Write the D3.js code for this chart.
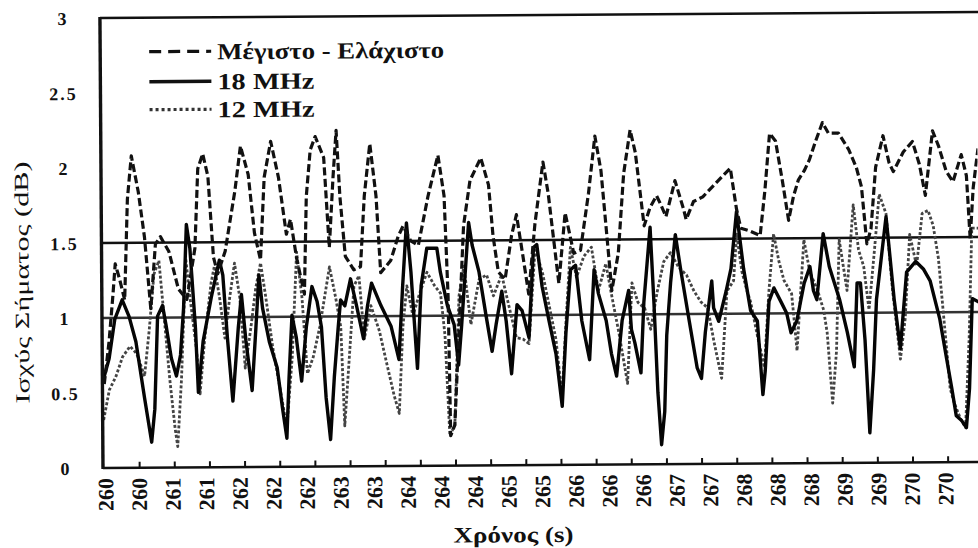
<!DOCTYPE html>
<html>
<head>
<meta charset="utf-8">
<script src="https://cdn.jsdelivr.net/npm/d3@7"></script>
<style>
  html, body { margin: 0; padding: 0; background: #fff; }
  svg { display: block; }
</style>
</head>
<body>
<script>
// Time axis labels (one every 0.4 s, rounded to whole seconds)
const tickLabels = ["260","260","261","261","262","262","262","263","263","264","264","264","265","265","266","266","266","267","267","268","268","268","269","269","270","270"];
const yTickValues = [0, 0.5, 1, 1.5, 2, 2.5, 3];
const yTickLabels = ["0", "0.5", "1", "1.5", "2", "2.5", "3"];

// Horizontal reference levels (dB)
const refLevels = [1.5, 1.0];

// Μέγιστο - Ελάχιστο (max - min), dashed
const maxMinT = [260.01,260.07,260.12,260.15,260.20,260.26,260.30,260.35,260.43,260.50,260.57,260.63,260.69,260.79,260.90,261.00,261.10,261.14,261.20,261.26,261.32,261.37,261.46,261.58,261.65,261.74,261.81,261.88,261.93,262.01,262.10,262.19,262.24,262.31,262.40,262.43,262.48,262.54,262.64,262.70,262.75,262.79,262.83,262.89,262.99,263.07,263.12,263.19,263.26,263.31,263.43,263.52,263.58,263.67,263.76,263.88,264.00,264.07,264.11,264.13,264.18,264.24,264.30,264.38,264.51,264.60,264.65,264.71,264.79,264.87,264.93,265.00,265.07,265.15,265.25,265.31,265.43,265.51,265.61,265.69,265.79,265.87,265.94,266.06,266.14,266.21,266.29,266.35,266.45,266.52,266.60,266.65,266.71,266.82,266.92,266.95,267.04,267.15,267.27,267.39,267.48,267.55,267.60,267.71,267.83,267.89,267.95,268.02,268.10,268.17,268.23,268.29,268.36,268.42,268.50,268.58,268.65,268.77,268.89,268.98,269.04,269.10,269.15,269.21,269.30,269.37,269.42,269.54,269.65,269.73,269.80,269.89,269.96,270.05,270.13,270.23,270.29,270.33,270.37,270.43];
const maxMinV = [0.56,0.84,1.15,1.36,1.26,1.12,1.79,2.08,1.84,1.54,1.06,1.49,1.54,1.44,1.19,1.12,1.46,1.99,2.09,1.94,1.40,1.29,1.44,1.84,2.14,1.95,1.56,1.38,1.93,2.17,1.93,1.55,1.65,1.39,1.15,1.80,2.11,2.20,2.06,1.46,1.93,2.24,1.80,1.40,1.31,1.33,1.80,2.15,1.80,1.29,1.37,1.53,1.60,1.50,1.47,1.80,2.07,1.80,1.13,0.20,0.27,0.93,1.60,1.90,2.05,1.87,1.53,1.29,1.24,1.53,1.67,1.41,1.14,1.61,2.02,1.81,1.21,1.68,1.41,1.43,1.81,2.19,1.96,1.16,1.41,1.94,2.23,2.08,1.59,1.71,1.79,1.73,1.65,1.89,1.70,1.63,1.75,1.78,1.85,1.92,1.97,1.70,1.57,1.55,1.52,1.82,2.20,2.15,1.88,1.62,1.78,1.89,1.95,2.02,2.15,2.27,2.20,2.20,2.09,1.97,1.84,1.46,1.56,1.97,2.18,2.00,1.94,2.07,2.14,1.99,1.78,2.21,2.11,1.94,1.87,2.05,1.91,1.49,1.83,2.09];

// 18 MHz, solid
const mhz18T = [260.00,260.07,260.14,260.23,260.31,260.39,260.49,260.57,260.61,260.65,260.71,260.75,260.81,260.87,260.92,260.96,261.00,261.04,261.10,261.13,261.19,261.29,261.39,261.43,261.48,261.54,261.61,261.65,261.70,261.77,261.82,261.86,261.90,261.98,262.07,262.13,262.18,262.21,262.25,262.30,262.36,262.42,262.49,262.55,262.60,262.65,262.70,262.75,262.80,262.83,262.88,262.95,263.02,263.10,263.15,263.20,263.31,263.43,263.52,263.57,263.62,263.67,263.74,263.79,263.86,263.98,264.02,264.10,264.18,264.23,264.27,264.36,264.40,264.48,264.56,264.63,264.68,264.75,264.80,264.86,264.93,264.99,265.07,265.13,265.17,265.23,265.31,265.39,265.46,265.51,265.57,265.63,265.70,265.79,265.85,265.90,265.99,266.05,266.11,266.18,266.26,266.29,266.33,266.40,266.44,266.52,266.56,266.60,266.64,266.68,266.71,266.76,266.82,266.88,266.98,267.07,267.12,267.17,267.25,267.27,267.33,267.42,267.48,267.55,267.63,267.71,267.79,267.85,267.88,267.93,267.99,268.07,268.14,268.19,268.26,268.35,268.42,268.46,268.50,268.58,268.65,268.77,268.86,268.94,268.98,269.02,269.07,269.12,269.17,269.21,269.33,269.42,269.49,269.57,269.68,269.77,269.85,269.96,270.04,270.10,270.15,270.21,270.27,270.31,270.35,270.45];
const mhz18V = [0.59,0.73,0.99,1.12,1.01,0.84,0.46,0.17,0.39,1.01,1.08,0.95,0.73,0.61,0.75,1.06,1.62,1.46,0.93,0.50,0.84,1.13,1.38,1.28,0.86,0.44,0.93,1.15,0.84,0.51,0.93,1.28,1.06,0.83,0.66,0.39,0.19,0.59,1.01,0.86,0.57,0.93,1.20,1.10,0.93,0.46,0.18,0.60,0.93,1.11,1.07,1.25,1.07,0.85,1.07,1.22,1.07,0.93,0.71,1.20,1.62,1.29,0.65,1.20,1.45,1.45,1.29,1.07,0.94,0.67,0.94,1.62,1.47,1.29,1.00,0.76,0.94,1.16,0.96,0.61,1.07,1.03,0.85,1.45,1.47,1.19,0.96,0.74,0.39,0.88,1.30,1.33,0.96,0.70,1.30,1.14,0.96,0.74,0.59,0.96,1.16,0.90,0.81,0.61,1.08,1.58,1.08,0.48,0.13,0.35,0.86,1.21,1.53,1.30,0.95,0.64,0.57,0.88,1.22,1.04,0.95,1.15,1.30,1.68,1.30,1.02,0.95,0.46,0.62,1.08,1.17,1.08,1.00,0.87,0.95,1.20,1.31,1.15,1.09,1.53,1.31,1.09,0.87,0.64,1.20,1.20,0.82,0.20,0.62,1.09,1.64,1.09,0.76,1.27,1.34,1.29,1.21,0.96,0.69,0.49,0.31,0.28,0.23,0.49,1.09,1.06];

// 12 MHz, dotted
const mhz12T = [260.00,260.07,260.15,260.23,260.32,260.40,260.49,260.55,260.61,260.67,260.73,260.79,260.85,260.88,260.93,260.99,261.04,261.11,261.15,261.21,261.29,261.33,261.39,261.45,261.51,261.57,261.63,261.69,261.76,261.82,261.88,261.94,262.02,262.10,262.18,262.25,262.31,262.37,262.43,262.50,262.58,262.64,262.70,262.77,262.83,262.87,262.93,262.99,263.05,263.11,263.19,263.29,263.38,263.46,263.52,263.57,263.62,263.69,263.76,263.86,263.95,264.02,264.07,264.12,264.18,264.24,264.30,264.38,264.48,264.57,264.65,264.75,264.83,264.92,265.00,265.07,265.15,265.24,265.31,265.39,265.46,265.51,265.57,265.64,265.73,265.82,265.90,265.99,266.06,266.14,266.24,266.30,266.37,266.45,266.52,266.60,266.68,266.76,266.86,266.95,267.04,267.12,267.20,267.27,267.36,267.43,267.51,267.55,267.61,267.67,267.71,267.79,267.87,267.93,267.99,268.05,268.11,268.20,268.26,268.35,268.42,268.51,268.58,268.62,268.68,268.73,268.77,268.86,268.94,269.00,269.06,269.12,269.19,269.25,269.33,269.40,269.49,269.55,269.61,269.69,269.76,269.83,269.89,269.95,270.01,270.08,270.13,270.20,270.26,270.31,270.35,270.45];
const mhz12V = [0.32,0.52,0.61,0.74,0.81,0.76,0.61,0.92,1.29,1.38,0.99,0.59,0.26,0.14,0.59,1.39,1.12,0.79,0.49,0.86,1.23,1.34,1.13,0.86,1.13,1.36,1.13,0.66,0.93,1.19,1.36,1.13,0.79,0.53,0.26,0.73,1.43,1.13,0.62,0.73,0.93,1.13,1.33,1.13,0.93,0.27,0.73,1.20,1.27,0.85,1.07,0.90,0.67,0.47,0.35,0.93,1.20,1.00,1.13,1.29,1.20,1.15,0.87,0.20,0.27,1.13,1.33,0.94,1.24,1.27,1.13,1.27,1.07,0.85,0.84,0.81,1.45,1.27,1.07,0.84,0.45,0.94,1.45,1.25,1.39,1.45,1.16,1.34,1.12,0.88,0.54,1.21,1.08,1.04,0.90,1.15,1.35,1.41,1.31,1.26,1.15,1.08,1.04,0.82,0.57,1.15,1.22,1.53,1.28,1.15,1.08,0.85,0.64,1.15,1.53,1.35,1.22,1.13,0.75,1.49,1.27,1.15,1.02,0.87,0.40,0.75,1.49,1.15,1.72,1.42,1.31,1.02,1.42,1.79,1.66,1.16,0.69,0.96,1.52,1.31,1.66,1.68,1.58,1.36,0.96,0.49,0.39,0.29,0.23,0.83,1.56,1.56];

const seriesNames = ["Μέγιστο - Ελάχιστο", "18 MHz", "12 MHz"];

// ---------------------------------------------------------------
const W = 978, H = 548;
const plotLeft = 104, plotRight = 977.6, plotTop = 18, plotBottom = 468;
const serif = "'Liberation Serif', 'DejaVu Serif', serif";

const x = d3.scaleLinear().domain([260, 270.4]).range([plotLeft, plotRight]);
const y = d3.scaleLinear().domain([0, 3]).range([plotBottom, plotTop]);

const svg = d3.select("body").append("svg")
  .attr("width", W).attr("height", H)
  .attr("viewBox", `0 0 ${W} ${H}`);

svg.append("rect").attr("width", W).attr("height", H).attr("fill", "#fff");

// the whole chart sits with a slight counter-clockwise tilt
const g = svg.append("g").attr("transform", `rotate(-0.39, ${plotLeft - 1}, ${plotBottom})`);

g.append("clipPath").attr("id", "plot-clip")
  .append("rect").attr("x", plotLeft).attr("y", 0).attr("width", plotRight - plotLeft + 2).attr("height", H);

const styles = [
  { stroke: "#111", width: 3.2, dash: "8,3.5", legendDash: "12,7" },
  { stroke: "#050505", width: 3.4, dash: null, legendDash: null },
  { stroke: "#444", width: 2.8, dash: "3,2", legendDash: "3,3" }
];

const series = [
  d3.zip(maxMinT, maxMinV),
  d3.zip(mhz18T, mhz18V),
  d3.zip(mhz12T, mhz12V)
];

const line = d3.line().x(d => x(d[0])).y(d => y(d[1]));

const plot = g.append("g").attr("clip-path", "url(#plot-clip)");

// reference levels
plot.selectAll("line.ref").data(refLevels).join("line")
  .attr("class", "ref")
  .attr("x1", x(260) - 1).attr("x2", x(270.4) + 2)
  .attr("y1", d => y(d)).attr("y2", d => y(d))
  .attr("stroke", (d, i) => i === 0 ? "#111" : "#333")
  .attr("stroke-width", 2.4);

// draw 12 MHz first, then 18 MHz, then max-min on top
[2, 1, 0].forEach(i => {
  plot.append("path")
    .datum(series[i])
    .attr("fill", "none")
    .attr("stroke", styles[i].stroke)
    .attr("stroke-width", styles[i].width)
    .attr("stroke-dasharray", styles[i].dash)
    .attr("stroke-linejoin", "round")
    .attr("d", line);
});

// frame: top, left, bottom
g.append("line").attr("x1", plotLeft - 1).attr("x2", W + 5).attr("y1", y(3)).attr("y2", y(3))
  .attr("stroke", "#111").attr("stroke-width", 2.4);
g.append("line").attr("x1", plotLeft - 1).attr("x2", plotLeft - 1).attr("y1", y(3) - 1).attr("y2", plotBottom + 1)
  .attr("stroke", "#111").attr("stroke-width", 3.4);
g.append("line").attr("x1", plotLeft - 1).attr("x2", W + 5).attr("y1", plotBottom).attr("y2", plotBottom)
  .attr("stroke", "#111").attr("stroke-width", 2.6);

// x tick marks (pointing into the plot)
const tickTimes = d3.range(1, 25).map(k => 260 + k * 0.4185);
const xTicks = g.append("g").attr("transform", `translate(0,${plotBottom})`)
  .call(d3.axisBottom(x).tickValues(tickTimes).tickSize(-6).tickFormat(""));
xTicks.select(".domain").remove();
xTicks.selectAll("line").attr("stroke", "#111").attr("stroke-width", 2);

// x tick labels, vertical
const labelTimes = tickLabels.map((_, i) => 260 + 0.4 * i);
const xLabels = g.append("g").attr("transform", `translate(0,${plotBottom})`)
  .call(d3.axisBottom(x).tickValues(labelTimes).tickSize(0).tickFormat((d, i) => tickLabels[i]));
xLabels.select(".domain").remove();
xLabels.selectAll("text")
  .attr("transform", "rotate(-90)")
  .attr("x", -10).attr("y", 1).attr("dy", "0.35em")
  .style("text-anchor", "end")
  .style("font-family", serif).style("font-size", "22px").style("font-weight", "bold")
  .attr("fill", "#111");

// y tick labels
const yAxis = g.append("g").attr("transform", `translate(${plotLeft},0)`)
  .call(d3.axisLeft(y).tickValues(yTickValues).tickSize(0).tickFormat((d, i) => yTickLabels[i]));
yAxis.select(".domain").remove();
yAxis.selectAll("text")
  .attr("x", -38).attr("dy", "0.35em")
  .style("text-anchor", "middle")
  .style("font-family", serif).style("font-size", "18px").style("font-weight", "bold")
  .style("letter-spacing", "2px")
  .attr("fill", "#111");

// axis titles
g.append("text")
  .attr("x", 513).attr("y", 545)
  .attr("text-anchor", "middle")
  .attr("textLength", 120).attr("lengthAdjust", "spacingAndGlyphs")
  .style("font-family", serif).style("font-size", "22px").style("font-weight", "bold")
  .attr("fill", "#111")
  .text("Χρόνος (s)");

g.append("text")
  .attr("transform", "translate(30,282) rotate(-90)")
  .attr("text-anchor", "middle")
  .attr("textLength", 242).attr("lengthAdjust", "spacingAndGlyphs")
  .style("font-family", serif).style("font-size", "20px")
  .attr("fill", "#111")
  .text("Ισχύς Σήματος (dB)");

// legend
const legendY = [52, 82, 110];
const legendW = [227, 97, 97];
const legend = g.append("g");
seriesNames.forEach((name, i) => {
  legend.append("line")
    .attr("x1", 152).attr("x2", 214).attr("y1", legendY[i]).attr("y2", legendY[i])
    .attr("stroke", i === 2 ? "#333" : "#111")
    .attr("stroke-width", i === 1 ? 3.4 : 3.2)
    .attr("stroke-dasharray", styles[i].legendDash);
  legend.append("text")
    .attr("x", 220).attr("y", legendY[i]).attr("dy", "0.35em")
    .attr("textLength", legendW[i]).attr("lengthAdjust", "spacingAndGlyphs")
    .style("font-family", serif).style("font-size", "23px").style("font-weight", "bold")
    .attr("fill", "#111")
    .text(name);
});
</script>
</body>
</html>
